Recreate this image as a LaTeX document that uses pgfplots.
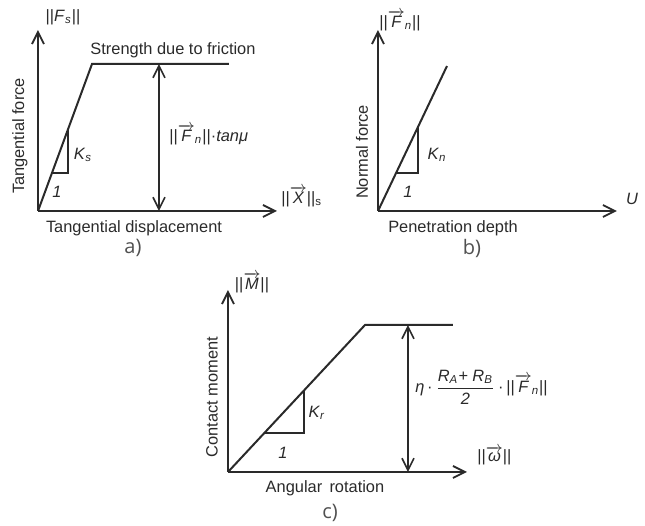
\documentclass[border=0pt]{standalone}
\usepackage{amsmath}
\usepackage{fontspec}
\setmainfont{Liberation Sans}
\newfontfamily\capfont{Open Sans}
\usepackage{pgfplots}
\pgfplotsset{compat=1.18}
\usetikzlibrary{arrows.meta}

\definecolor{ink}{HTML}{2A2A2A}
\definecolor{capgray}{HTML}{505050}

% vector with arrow, letter in the italic text font
\newcommand{\vt}[1]{\ensuremath{\overrightarrow{\mbox{\itshape #1}}}}

\tikzset{
  lbl/.style={font=\fontsize{8.2}{9.5}\selectfont, text=ink, inner sep=1pt},
  panelcap/.style={font=\capfont\fontsize{10}{12}\selectfont, text=capgray},
}

\pgfplotsset{
  schema/.style={
    x=0.5pt, y=0.5pt,
    xmin=0, xmax=239, ymin=0, ymax=181,
    axis lines=left,
    axis line style={ink, line width=1pt,
      -{Straight Barb[length=6pt,width=6pt,line width=0.9pt]}},
    xtick=\empty, ytick=\empty,
    clip=false,
    anchor=origin,
  },
  curve/.style={ink, line width=1pt, mark=none},
  tri/.style={ink, line width=0.6pt, mark=none},
  dim/.style={ink, line width=0.8pt, mark=none,
    {Straight Barb[length=6pt,width=6pt,line width=0.8pt]}-{Straight Barb[length=6pt,width=6pt,line width=0.8pt]}},
}

\begin{document}
\begin{tikzpicture}
\path[use as bounding box] (0,0) rectangle (322.5pt,263pt);

% a) tangential
\begin{axis}[schema, at={(19pt,157.5pt)}]
  \addplot[curve] coordinates {(0,0) (54,147) (191,147)};
  \addplot[dim] coordinates {(121,0) (121,147)};
  \addplot[tri] coordinates {(14,38) (30,38) (30,82)};
  \node[lbl] at (axis cs:25,194) {||\textit{F}\textsubscript{\textit{s}}||};
  \node[lbl] at (axis cs:135,161) {Strength due to friction};
  \node[lbl, anchor=west] at (axis cs:129,76) {||\vt{F}\textsubscript{\textit{n}}||·\textit{tanμ}};
  \node[lbl] at (axis cs:45,56) {\textit{K}\textsubscript{\textit{s}}};
  \node[lbl] at (axis cs:19,19) {\textit{1}};
  \node[lbl, anchor=west] at (axis cs:241,14) {||\vt{X}||\textsubscript{s}};
  \node[lbl] at (axis cs:96,-17) {Tangential displacement};
  \node[lbl, rotate=90] at (axis cs:-18,75) {Tangential force};
  \node[panelcap] at (axis cs:95,-37) {a)};
\end{axis}

% b) normal
\begin{axis}[schema, at={(189pt,157.5pt)}]
  \addplot[curve] coordinates {(0,0) (69,145)};
  \addplot[tri] coordinates {(18,38) (40,38) (40,84)};
  \node[lbl] at (axis cs:22,190) {||\vt{F}\textsubscript{\textit{n}}||};
  \node[lbl] at (axis cs:59,56) {\textit{K}\textsubscript{\textit{n}}};
  \node[lbl] at (axis cs:30,19) {\textit{1}};
  \node[lbl] at (axis cs:254,12) {\textit{U}};
  \node[lbl] at (axis cs:75,-17) {Penetration depth};
  \node[lbl, rotate=90] at (axis cs:-16,59) {Normal force};
  \node[panelcap] at (axis cs:94,-37) {b)};
\end{axis}

% c) rotation
\begin{axis}[schema, ymax=182, at={(114pt,27pt)}]
  \addplot[curve] coordinates {(0,0) (137,147) (225,147)};
  \addplot[dim] coordinates {(180,0) (180,147)};
  \addplot[tri] coordinates {(37,39) (76,39) (76,81)};
  \node[lbl] at (axis cs:24,189) {||\vt{M}||};
  \node[lbl] at (axis cs:89,59) {\textit{K}\textsubscript{\textit{r}}};
  \node[lbl] at (axis cs:55,19) {\textit{1}};
  \node[lbl, anchor=west] at (axis cs:185,85)
    {\textit{η}\,·\,$\dfrac{\mbox{\itshape R\textsubscript{A}+ R\textsubscript{B}}}{\mbox{\itshape 2}}$\,·\,||\vt{F}\textsubscript{\textit{n}}||};
  \node[lbl, anchor=west] at (axis cs:247,16) {||\vt{ω}||};
  \node[lbl] at (axis cs:97,-16) {Angular\, rotation};
  \node[lbl, rotate=90] at (axis cs:-16,75) {Contact moment};
  \node[panelcap] at (axis cs:102,-41) {c)};
\end{axis}
\end{tikzpicture}
\end{document}
